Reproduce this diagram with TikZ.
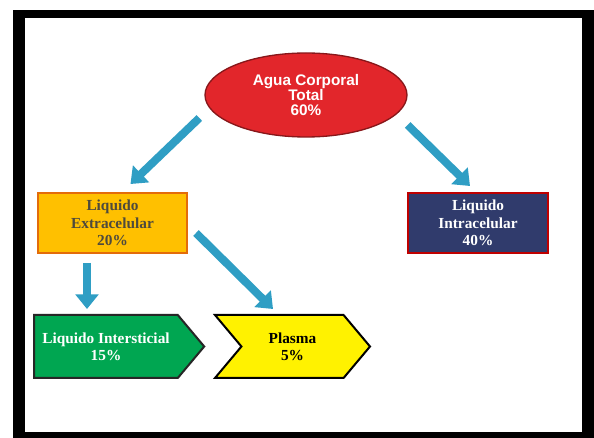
\documentclass[tikz,border=0pt]{standalone}
\usepackage{fontspec}
\setmainfont{Liberation Serif}
\newfontfamily\titlefont{Liberation Sans}
\usetikzlibrary{arrows.meta,shapes.geometric,shapes.symbols}

\begin{document}
\begin{tikzpicture}[x=0.75pt,y=-0.75pt,
  caja/.style={draw, line width=1.5pt, align=center, inner sep=0pt,
    font=\fontsize{11.5}{13}\selectfont\bfseries},
  flecha/.style={draw=azul, line width=6pt, -{Triangle[width=17pt,length=11pt]}},
  punta/.style={caja, signal, signal to=east, signal pointer angle=100,
    minimum height=47.25pt}]
\useasboundingbox (0,0) rectangle (594,438);
\definecolor{azul}{HTML}{2F9EC4}
\definecolor{rojo}{HTML}{E2262B}
\definecolor{naranja}{HTML}{FFC000}
\definecolor{borde}{HTML}{E36C0A}
\definecolor{marino}{HTML}{303B6C}
\definecolor{verde}{HTML}{00A651}
\fill[black] (13,10) rectangle (594,438);
\fill[white] (25,18) rectangle (582,432);
\node[caja, ellipse, fill=rojo, draw=rojo!60!black, line width=1pt, text=white,
  minimum width=151.5pt, minimum height=63pt,
  font=\titlefont\fontsize{11.5}{11.5}\selectfont\bfseries] (total) at (306,95) {Agua Corporal\\Total\\60\%};
\node[caja, fill=naranja, draw=borde, minimum width=111.75pt, minimum height=45pt,
  text=black!80!yellow] (extra) at (112.5,223) {Liquido\\Extracelular\\20\%};
\node[caja, fill=marino, draw=red!75!black, minimum width=105pt, minimum height=45pt,
  text=white] (intra) at (478,223) {Liquido\\Intracelular\\40\%};
\node[punta, fill=verde, draw=black!85, minimum width=127.5pt, text=white] (inter) at (106,346.5) {Liquido Intersticial\\15\%};
\node[punta, signal from=west, fill=yellow, draw=black, minimum width=116.25pt] (plasma) at (292.5,346.5) {Plasma\\5\%};
\draw[flecha] ([shift={(-5,23)}]total.west) -- ([shift={(18,-8)}]extra.north);
\draw[flecha] ([shift={(0,30)}]total.east) -- ([shift={(-8,-6)}]intra.north);
\draw[flecha] ([shift={(8,10)}]extra.east) -- ([shift={(-19.5,-5)}]plasma.north);
\draw[flecha] ([shift={(-25.5,9)}]extra.south) -- ([shift={(-19,-5)}]inter.north);
\end{tikzpicture}
\end{document}
